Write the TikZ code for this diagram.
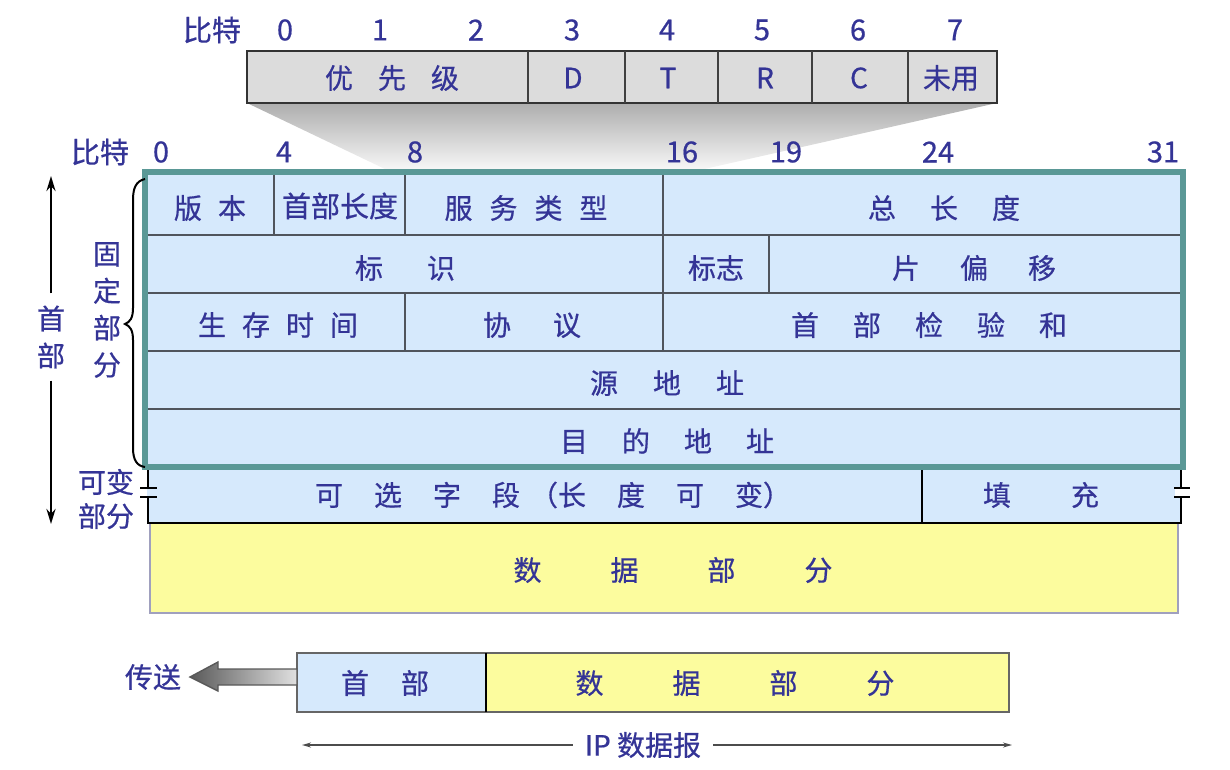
\documentclass[tikz,border=0pt]{standalone}
\usepackage{fontspec}
\setmainfont{Noto Sans CJK SC}[FakeBold=0.6]
\usetikzlibrary{arrows.meta,shadings}
\definecolor{txt}{RGB}{52,52,150}
\definecolor{lblue}{RGB}{214,233,252}
\definecolor{lyel}{RGB}{252,252,158}
\definecolor{tealb}{RGB}{90,152,150}
\definecolor{lgray}{RGB}{220,220,220}
\definecolor{grid}{RGB}{80,84,92}
\newcommand{\gp}[1]{\hspace{#1pt}}
\begin{document}
\begin{tikzpicture}[x=1pt,y=-1pt,
  lbl/.style={text=txt,font=\fontsize{28}{30}\selectfont,inner sep=0pt,anchor=center},
  num/.style={text=txt,font=\fontsize{29}{30}\selectfont,inner sep=0pt,anchor=center},
  gridline/.style={draw=grid,line width=1.6pt},
  blk/.style={draw=black,line width=1.8pt},
  tip/.style={-{Stealth[length=15pt,width=9pt]}},
  smalltip/.style={-{Stealth[length=9pt,width=5pt]}}]
\useasboundingbox (0,0) rectangle (1230,769);

% ---- funnel ----
\shade[top color=black!32, bottom color=black!3] (247,103) -- (997,103) -- (700,170) -- (387,170) -- cycle;

% ---- top byte box ----
\draw[fill=lgray, draw=black!80, line width=2.2pt] (247,51) rectangle (997,103);
\foreach \x in {528,625,718,812,908} \draw[draw=black!75,line width=1.6pt] (\x,51) -- (\x,103);
\node[num] (tb) at (212,30) {比特};
\node[num] (t0) at (285,30) {0};
\node[num] (t1) at (380,30) {1};
\node[num] (t2) at (476,30) {2};
\node[num] (t3) at (572,30) {3};
\node[num] (t4) at (667,30) {4};
\node[num] (t5) at (762,30) {5};
\node[num] (t6) at (858,30) {6};
\node[num] (t7) at (955,30) {7};
\node[lbl] (pri) at (392,78) {优\gp{25}先\gp{25}级};
\node[lbl] (fd) at (573,78) {D};
\node[lbl] (ft) at (668,78) {T};
\node[lbl] (fr) at (765,78) {R};
\node[lbl] (fc) at (859,78) {C};
\node[lbl] (fu) at (951,78) {未用};

% ---- main bit labels ----
\node[num] (mb) at (100,152) {比特};
\node[num] (m0) at (161,152) {0};
\node[num] (m4) at (284,152) {4};
\node[num] (m8) at (415,152) {8};
\node[num] (m16) at (682,152) {16};
\node[num] (m19) at (786,152) {19};
\node[num] (m24) at (938,152) {24};
\node[num] (m31) at (1163,152) {31};

% ---- data part ----
\draw[fill=lyel, draw={rgb,255:red,160;green,160;blue,190}, line width=1.6pt] (150,523) rectangle (1178,613);
\node[lbl] (data) at (673,570) {数\gp{69}据\gp{69}部\gp{69}分};

% ---- variable part ----
\fill[lblue] (148,467) rectangle (1181,523);
\draw[blk] (148,467) -- (148,523) -- (1181,523) -- (1181,467);
\draw[blk] (922,467) -- (922,523);
\fill[white] (141,489) rectangle (146.5,496);
\fill[lblue] (146.5,489) rectangle (156,496);
\draw[black,line width=1.8pt] (140,488) -- (157,488) (140,497) -- (157,497);
\fill[white] (1175,489) rectangle (1190,496);
\draw[black,line width=1.8pt] (1174,488) -- (1190,488) (1174,497) -- (1190,497);
\node[lbl] (opt) at (553,495) {可\gp{31}选\gp{31}字\gp{31}段\gp{10}（长\gp{31}度\gp{31}可\gp{31}变）};
\node[lbl] (pad) at (1041,495) {填\gp{60}充};

% ---- fixed header ----
\fill[lblue] (145,172) rectangle (1183,467);
\foreach \y in {235,293,351,409} \draw[gridline] (148,\y) -- (1180,\y);
\draw[gridline] (274,172) -- (274,235);
\draw[gridline] (405,172) -- (405,235);
\draw[gridline] (663,172) -- (663,351);
\draw[gridline] (769,235) -- (769,293);
\draw[gridline] (405,293) -- (405,351);
\draw[draw=tealb, line width=5.5pt] (145,172) rectangle (1183,467);

\node[lbl] (ver) at (210,208) {版\gp{16}本};
\node[lbl,font=\fontsize{29}{30}\selectfont] (hl) at (340,206) {首部长度};
\node[lbl] (tos) at (526,208) {服\gp{17}务\gp{17}类\gp{17}型};
\node[lbl] (tl) at (944,208) {总\gp{34}长\gp{34}度};
\node[lbl] (id) at (405,268) {标\gp{44}识};
\node[lbl] (flag) at (716,268) {标志};
\node[lbl] (frag) at (974,268) {片\gp{40}偏\gp{40}移};
\node[lbl] (ttl) at (278,325) {生\gp{16}存\gp{16}时\gp{16}间};
\node[lbl] (proto) at (532,325) {协\gp{42}议};
\node[lbl] (cks) at (929,325) {首\gp{34}部\gp{34}检\gp{34}验\gp{34}和};
\node[lbl] (src) at (667,383) {源\gp{35}地\gp{35}址};
\node[lbl] (dst) at (667,441) {目\gp{34}的\gp{34}地\gp{34}址};

% ---- left labels ----
\node[lbl,align=center,font=\fontsize{28}{37}\selectfont] (hdr) at (51,337) {首\\部};
\coordinate (hdrT) at (51,176);
\coordinate (hdrB) at (51,524);
\draw[black,line width=2.4pt,tip] (hdr.north) ++(0,-12) -- (hdrT);
\draw[black,line width=2.4pt,tip] (hdr.south) ++(0,12) -- (hdrB);
\node[lbl,align=center,font=\fontsize{28}{37}\selectfont] (fix) at (107,310) {固\\定\\部\\分};
\node[lbl,align=center,font=\fontsize{28}{34}\selectfont] (var) at (106,499) {可变\\部分};
\coordinate (brT) at (145,179);
\coordinate (brB) at (145,467);
\draw[black,line width=2pt] (brT) .. controls (136,181) and (133,188) .. (133,200) -- (133,308)
  .. controls (133,318) and (130,322) .. (125,324) .. controls (130,326) and (133,330) .. (133,340)
  -- (133,448) .. controls (133,460) and (137,466) .. (brB);

% ---- bottom datagram ----
\draw[fill=lblue, draw=black!60, line width=1.6pt] (297,653) rectangle (486,712);
\draw[fill=lyel, draw=black!60, line width=1.6pt] (486,653) rectangle (1009,712);
\draw[black, line width=1.4pt] (486,653) -- (486,712);
\node[lbl] (bh) at (385,683) {首\gp{32}部};
\node[lbl] (bd) at (735,683) {数\gp{69}据\gp{69}部\gp{69}分};

\node[lbl] (send) at (153,677) {传送};
\shade[left color=black!65, right color=black!12, draw=black!65, line width=1.4pt]
  (297,669) -- (218,669) -- (218,662) -- (190,677) -- (218,691) -- (218,685) -- (297,685) -- cycle;

\node[lbl,inner xsep=12pt] (ip) at (643,745) {IP 数据报};
\coordinate (ipL) at (302,745);
\coordinate (ipR) at (1012,745);
\draw[black!70, line width=1.6pt, smalltip] (ip.west) -- (ipL);
\draw[black!70, line width=1.6pt, smalltip] (ip.east) -- (ipR);
\end{tikzpicture}
\end{document}
